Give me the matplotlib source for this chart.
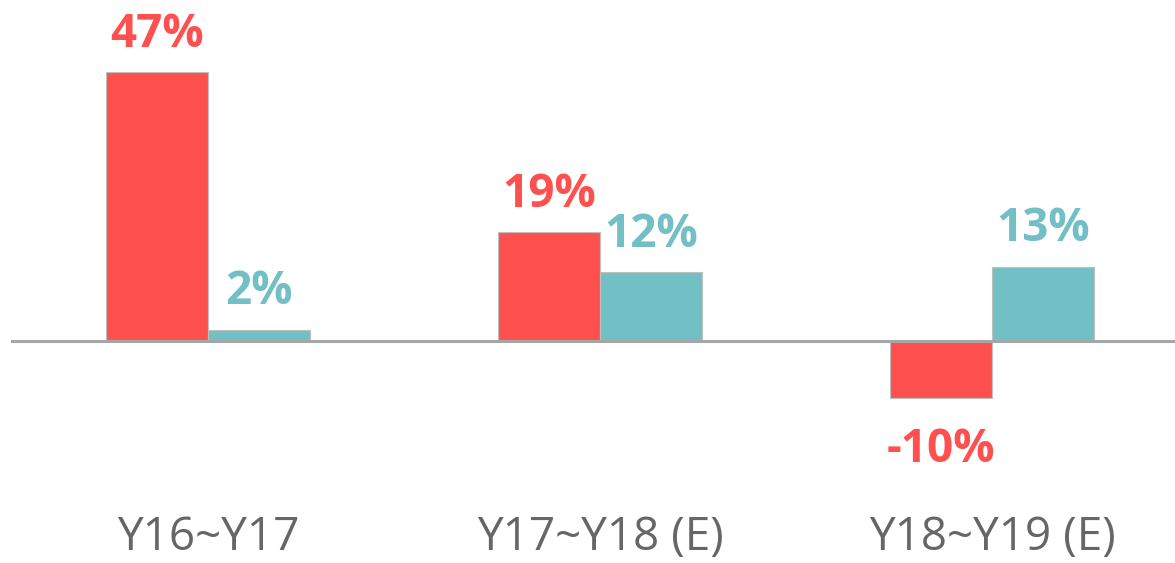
import numpy as np
import matplotlib
matplotlib.use("Agg")
import matplotlib.pyplot as plt

plt.rcParams["font.family"] = ["Open Sans", "DejaVu Sans"]

categories = ["Y16~Y17", "Y17~Y18 (E)", "Y18~Y19 (E)"]
red_values = [47, 19, -10]
teal_values = [2, 12, 13]

RED = "#FF5050"
TEAL = "#72BFC5"


def label_text(v):
    return f"{v}%"


def main():
    fig = plt.figure(figsize=(11.75, 5.63), dpi=100)
    ax = fig.add_axes([0, 0, 1, 1])

    x = np.arange(len(categories))
    width = 0.26

    ax.bar(x - width / 2, red_values, width, color=RED, edgecolor="#BFBFBF", linewidth=0.8, zorder=2)
    ax.bar(x + width / 2, teal_values, width, color=TEAL, edgecolor="#BFBFBF", linewidth=0.8, zorder=2)

    ax.axhline(0, xmin=0.01, xmax=1, color="#A6A6A6", linewidth=2.2, zorder=3)

    for xi, v in zip(x - width / 2, red_values):
        if v >= 0:
            ax.text(xi, v + 4.4, label_text(v), ha="center", va="baseline",
                    color=RED, fontsize=33, fontweight="bold")
        else:
            ax.text(xi, v - 11.2, label_text(v), ha="center", va="baseline",
                    color=RED, fontsize=33, fontweight="bold")
    for xi, v in zip(x + width / 2, teal_values):
        ax.text(xi, v + 4.4, label_text(v), ha="center", va="baseline",
                color=TEAL, fontsize=33, fontweight="bold")

    for xi, name in zip(x, categories):
        ax.text(xi, -36.6, name, ha="center", va="baseline", color="#666666", fontsize=33)

    ax.set_xlim(-208 / 392, (1175 - 208) / 392)
    ax.set_ylim(-(563 - 341) / 5.72, 341 / 5.72)
    ax.axis("off")

    fig.savefig("out.png", dpi=100, facecolor="white")
    plt.close(fig)


if __name__ == "__main__":
    main()
